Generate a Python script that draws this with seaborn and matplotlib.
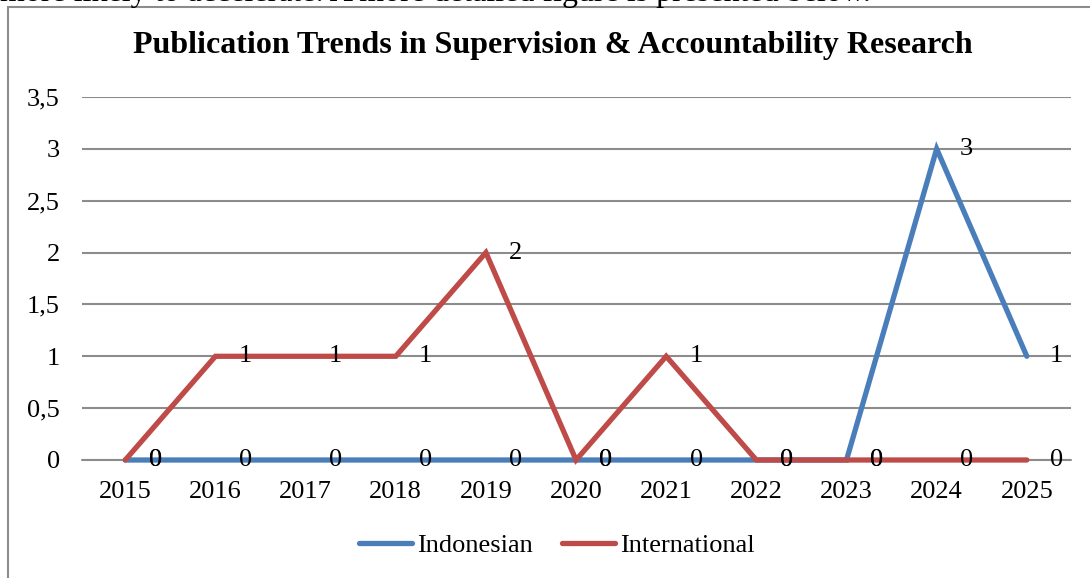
import matplotlib
matplotlib.use("Agg")
import matplotlib.pyplot as plt
import seaborn as sns
import pandas as pd
from matplotlib.patches import Rectangle
from matplotlib.lines import Line2D

years = [2015, 2016, 2017, 2018, 2019, 2020, 2021, 2022, 2023, 2024, 2025]
indonesian = [0, 0, 0, 0, 0, 0, 0, 0, 0, 3, 1]
international = [0, 1, 1, 1, 2, 0, 1, 0, 0, 0, 0]
series_names = ["Indonesian", "International"]
colors = ["#4A7EBB", "#BE4B48"]
yticks = [0, 0.5, 1, 1.5, 2, 2.5, 3, 3.5]
ytick_labels = ["0", "0,5", "1", "1,5", "2", "2,5", "3", "3,5"]
title = "Publication Trends in Supervision & Accountability Research"
top_text = "more likely to accelerate. A more detailed figure is presented below."

sns.set_style("white")
plt.rcParams['font.family'] = ['Liberation Serif', 'DejaVu Serif']
plt.rcParams['text.color'] = 'black'

df = pd.DataFrame({
    "Year": years * 2,
    "Value": indonesian + international,
    "Series": [series_names[0]] * len(years) + [series_names[1]] * len(years),
})

W, H = 1090, 578
fig = plt.figure(figsize=(W / 100, H / 100), dpi=100)
ax = fig.add_axes([82 / W, 1 - 460 / H, (1071 - 82) / W, (460 - 97) / H])

sns.lineplot(data=df, x="Year", y="Value", hue="Series", palette=colors,
             hue_order=series_names, ax=ax, linewidth=3.8, legend=False,
             sort=False, estimator=None)
for ln in ax.get_lines():
    ln.set_solid_capstyle("round")
    ln.set_solid_joinstyle("miter")
    ln.set_zorder(3)
    ln.set_clip_on(False)

ax.set_xlim(2015 - 0.48, 2025 + 0.49)
ax.set_ylim(0, 3.5)
ax.set_yticks(yticks)
ax.set_yticklabels(ytick_labels)
ax.set_xticks(years)
ax.set_xticklabels([str(y) for y in years])
ax.yaxis.grid(True, color="#8C8C8C", linewidth=1.5)
ax.set_axisbelow(True)
for s in ax.spines.values():
    s.set_visible(False)
ax.axhline(0, color="#8C8C8C", linewidth=1.5, zorder=1, clip_on=False)
ax.tick_params(axis="both", length=0, labelsize=19, labelcolor="black")
ax.tick_params(axis="y", pad=16)
ax.tick_params(axis="x", pad=15)
ax.set_xlabel("")
ax.set_ylabel("")

for vals in (indonesian, international):
    for x, v in zip(years, vals):
        ax.annotate(str(v), (x, v), xytext=(21.5, 0), textcoords="offset points",
                    ha="center", va="center", fontsize=19, zorder=5,
                    color="black", annotation_clip=False)

fig.text(553 / W, 1 - 46 / H, title, ha="center", va="center",
         fontsize=23, fontweight="bold", color="black")

handles = [Line2D([0], [0], color=c, linewidth=3.8, solid_capstyle="round")
           for c in colors]
leg = fig.legend(handles, series_names, loc="center", bbox_to_anchor=(557 / W, 1 - 545 / H),
                 ncol=2, frameon=False, fontsize=19, handlelength=2.0,
                 handletextpad=0.2, columnspacing=1.1)
for t in leg.get_texts():
    t.set_color("black")

# chart frame (extends beyond the image at right and bottom)
fig.patches.append(Rectangle((8 / W, -0.1), 1.2, (H - 7) / H + 0.1,
                             transform=fig.transFigure, fill=False,
                             edgecolor="#8C8C8C", linewidth=1.5))

# cut-off body text above the chart (as in the reference)
fig.text(0 / W, 1 - 1 / H, top_text, ha="left", va="baseline", fontsize=23,
         color="black")

fig.savefig("out.png", dpi=100)
